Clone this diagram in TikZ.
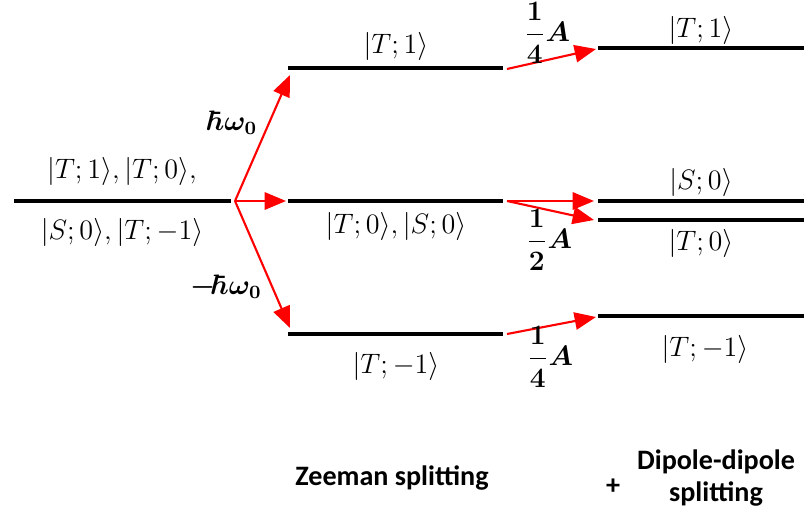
\documentclass[tikz,border=0pt]{standalone}
\usepackage{amsmath, amssymb}
\usepackage{fontspec}
\setmainfont{Carlito}
\usetikzlibrary{arrows.meta, positioning}

\begin{document}
\begin{tikzpicture}[
    x=0.015cm, y=-0.015cm,
    node distance=3pt,
    level/.style={line width=1.8pt},
    state/.style={font=\large, inner sep=1pt},
    gap/.style={font=\large\boldmath, inner sep=1pt},
    caption/.style={font=\large\bfseries, align=center},
    arr/.style={-{Triangle[length=3.2mm, width=2.6mm]}, red, line width=0.9pt}
]
\useasboundingbox (0,0) rectangle (804,512);

% energy levels
\coordinate (l0a) at (14,201);  \coordinate (l0b) at (231,201);
\coordinate (z1a) at (288,68);  \coordinate (z1b) at (503,68);
\coordinate (z0a) at (288,201); \coordinate (z0b) at (503,201);
\coordinate (zma) at (288,334); \coordinate (zmb) at (503,334);
\coordinate (d1a) at (598,48);  \coordinate (d1b) at (804,48);
\coordinate (dsa) at (598,201); \coordinate (dsb) at (804,201);
\coordinate (dta) at (598,220); \coordinate (dtb) at (804,220);
\coordinate (dma) at (598,316); \coordinate (dmb) at (804,316);

\foreach \lv in {l0, z1, z0, zm, d1, ds, dt, dm}
    \draw[level] (\lv a) -- (\lv b);

% state labels
\node[state] (l0up) at (122,171) {$|T;1\rangle, |T;0\rangle,$};
\node[state] (l0dn) at (122,232) {$|S;0\rangle, |T;-1\rangle$};
\node[state] (z1lab) at (396,46) {$|T;1\rangle$};
\node[state] (z0lab) at (396,226) {$|T;0\rangle, |S;0\rangle$};
\node[state] (zmlab) at (396,366) {$|T;-1\rangle$};
\node[state] (d1lab) at (701,30) {$|T;1\rangle$};
\node[state] (dslab) at (701,182) {$|S;0\rangle$};
\node[state] (dtlab) at (701,243) {$|T;0\rangle$};
\node[state] (dmlab) at (705,349) {$|T;-1\rangle$};

% Zeeman arrows
\coordinate (zs) at (235,201);
\coordinate (zt1) at (290,75);
\coordinate (zt0) at (286,201);
\coordinate (ztm) at (290,328);
\draw[arr] (zs) -- (zt1);
\draw[arr] (zs) -- (zt0);
\draw[arr] (zs) -- (ztm);
\node[gap] (wp) at (234,123) {$\hbar\omega_0$};
\node[gap] (wm) at (226,287) {$-\hbar\omega_0$};

% dipole-dipole arrows
\coordinate (s1) at (507,69);  \coordinate (t1) at (596,49);
\coordinate (s0) at (507,201); \coordinate (ts) at (594,201);
\coordinate (tt) at (594,220);
\coordinate (sm) at (507,334); \coordinate (tm) at (596,317);
\draw[arr] (s1) -- (t1);
\draw[arr] (s0) -- (ts);
\draw[arr] (s0) -- (tt);
\draw[arr] (sm) -- (tm);
\node[gap] (a1) at (547,33) {$\dfrac{1}{4}A$};
\node[gap] (a0) at (549,240) {$\dfrac{1}{2}A$};
\node[gap] (am) at (550,357) {$\dfrac{1}{4}A$};

% captions
\node[caption] (zee) at (392,478) {Zeeman splitting};
\node[caption] (plus) at (613,487) {+};
\node[caption] (dip) at (716,478) {Dipole-dipole\\splitting};
\end{tikzpicture}
\end{document}
